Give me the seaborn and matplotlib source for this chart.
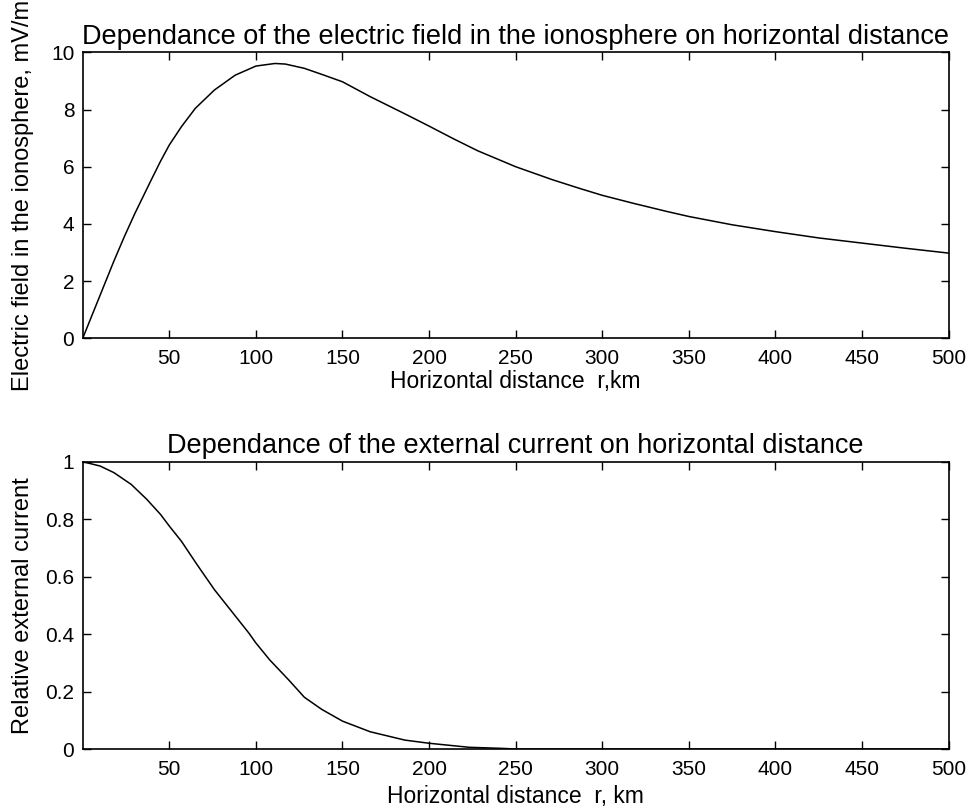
import numpy as np
import pandas as pd
import matplotlib
matplotlib.use("Agg")
import matplotlib.pyplot as plt
import seaborn as sns

# electric field in the ionosphere (top panel)
r_field = [0, 5, 12, 18, 24, 30, 39, 45, 50, 57, 65, 76, 88, 100, 111, 117,
           128, 138, 150, 166, 186, 200, 214, 228, 250, 271, 287, 300, 318,
           337, 350, 375, 400, 425, 450, 475, 500]
e_field = [0.0, 0.75, 1.8, 2.7, 3.55, 4.35, 5.47, 6.2, 6.76, 7.4, 8.04, 8.68,
           9.2, 9.52, 9.61, 9.59, 9.44, 9.23, 8.97, 8.45, 7.85, 7.42, 6.98,
           6.56, 6.0, 5.55, 5.24, 5.0, 4.72, 4.44, 4.26, 3.97, 3.73, 3.51,
           3.33, 3.15, 2.98]

# relative external current (bottom panel)
r_current = [0, 10, 18, 28, 37, 45, 50, 57, 66, 76, 86, 96, 100, 108, 119,
             128, 138, 150, 166, 186, 200, 223, 243, 250, 300, 350, 400, 450, 500]
current = [1.0, 0.985, 0.962, 0.921, 0.869, 0.816, 0.776, 0.723, 0.642, 0.555,
           0.479, 0.403, 0.369, 0.31, 0.24, 0.18, 0.138, 0.097, 0.06,
           0.031, 0.02, 0.006, 0.002, 0.0, 0.0, 0.0, 0.0, 0.0, 0.0]

x_ticks = [50, 100, 150, 200, 250, 300, 350, 400, 450, 500]
y_ticks_top = [0, 2, 4, 6, 8, 10]
y_ticks_bottom = [0, 0.2, 0.4, 0.6, 0.8, 1]
y_labels_bottom = ["0", "0.2", "0.4", "0.6", "0.8", "1"]

sns.set_style("ticks")
plt.rcParams["font.family"] = ["Liberation Sans", "DejaVu Sans"]
plt.rcParams["xtick.direction"] = "in"
plt.rcParams["ytick.direction"] = "in"
plt.rcParams["xtick.top"] = True
plt.rcParams["ytick.right"] = True
plt.rcParams["xtick.major.size"] = 5.5
plt.rcParams["ytick.major.size"] = 5.5
plt.rcParams["xtick.major.width"] = 1.0
plt.rcParams["ytick.major.width"] = 1.0
plt.rcParams["axes.linewidth"] = 1.2
plt.rcParams["axes.edgecolor"] = "black"
plt.rcParams["xtick.color"] = "black"
plt.rcParams["ytick.color"] = "black"
plt.rcParams["text.color"] = "black"
plt.rcParams["axes.labelcolor"] = "black"

fig = plt.figure(figsize=(9.73, 8.10), dpi=100)
ax1 = fig.add_axes([0.085, 0.5823, 0.890, 0.3531])
ax2 = fig.add_axes([0.085, 0.0753, 0.890, 0.3547])

df_top = pd.DataFrame({"r": r_field, "E": e_field})
df_bot = pd.DataFrame({"r": r_current, "I": current})

sns.lineplot(data=df_top, x="r", y="E", color="black", linewidth=1.1, ax=ax1)
sns.lineplot(data=df_bot, x="r", y="I", color="black", linewidth=1.1, ax=ax2)

ax1.set_xlim(0, 500)
ax1.set_ylim(0, 10)
ax1.set_xticks(x_ticks)
ax1.set_yticks(y_ticks_top)
ax1.set_title("Dependance of the electric field in the ionosphere on horizontal distance",
              fontsize=19.5, pad=6)
ax1.set_xlabel("Horizontal distance  r,km", fontsize=16.5, labelpad=1)
ax1.set_ylabel("Electric field in the ionosphere, mV/m", fontsize=17, labelpad=12)

ax2.set_xlim(0, 500)
ax2.set_ylim(0, 1)
ax2.set_xticks(x_ticks)
ax2.set_yticks(y_ticks_bottom)
ax2.set_yticklabels(y_labels_bottom)
ax2.set_title("Dependance of the external current on horizontal distance",
              fontsize=19.5, pad=6)
ax2.set_xlabel("Horizontal distance  r, km", fontsize=16.5, labelpad=4)
ax2.set_ylabel("Relative external current", fontsize=17, labelpad=8)

for ax in (ax1, ax2):
    ax.tick_params(axis="x", labelsize=15, pad=8)
    ax.tick_params(axis="y", labelsize=15, pad=6)
    for s in ax.spines.values():
        s.set_visible(True)

fig.savefig("out.png", dpi=100, facecolor="white")
